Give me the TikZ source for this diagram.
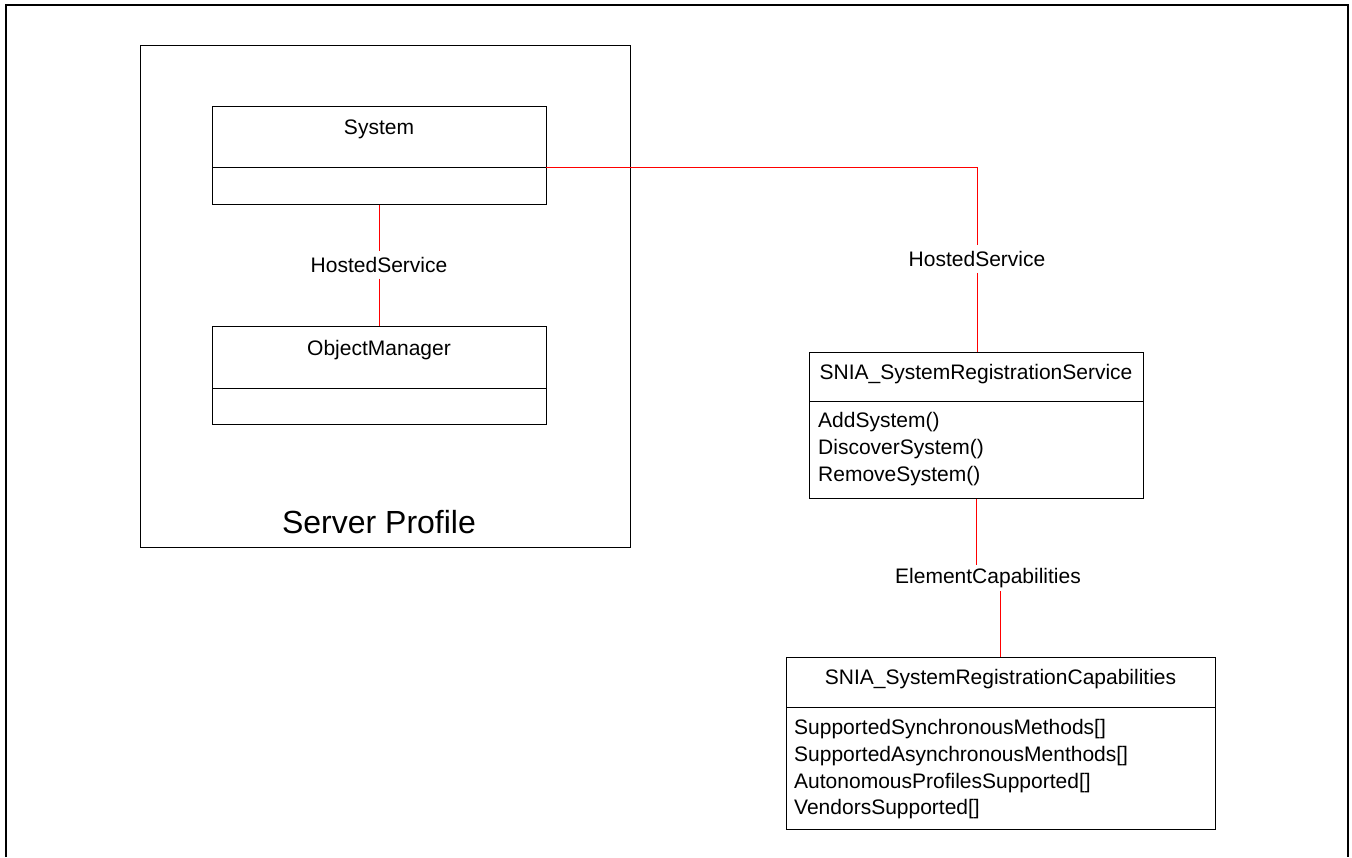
\documentclass[tikz,border=0pt]{standalone}
\usepackage{fontspec}
\setmainfont{Liberation Sans}
\begin{document}
\begin{tikzpicture}[x=1pt,y=-1pt,
  box/.style={draw=black, line width=1pt, inner sep=0pt, minimum width=#1},
  txt/.style={font=\fontsize{21}{26}\selectfont, inner sep=0pt},
  big/.style={font=\fontsize{32}{38}\selectfont, inner sep=0pt},
  conn/.style={draw=red, line width=1pt},
  clabel/.style={font=\fontsize{21}{26}\selectfont, inner xsep=2pt, inner ysep=5.7pt}]
\useasboundingbox (0,0) rectangle (1352,857);
% outer frame
\draw[line width=2pt] (6,857) -- (6,5) -- (1348,5) -- (1348,857);
% Server profile
\node[box=490pt, minimum height=502pt] (sp) at (385,296) {};
\node[big, anchor=base] (spt) at (379,533) {Server Profile};
% System
\node[box=334pt, minimum height=98pt] (sys) at (379,155) {};
\draw[line width=1pt] (212,167) -- (546,167);
\coordinate (sysR) at (546,167);
\node[txt, anchor=base] (syst) at (379,134) {System};
% ObjectManager
\node[box=334pt, minimum height=98pt] (om) at (379,375) {};
\draw[line width=1pt] (212,388) -- (546,388);
\node[txt, anchor=base] (omt) at (379,355) {ObjectManager};
% SRS
\node[box=334pt, minimum height=146pt] (srs) at (976,425) {};
\draw[line width=1pt] (809,401) -- (1143,401);
\node[txt, anchor=base] (srst) at (976,379) {SNIA\_SystemRegistrationService};
\node[txt, anchor=base west] (m1) at (818,427.5) {AddSystem()};
\node[txt, anchor=base west] (m2) at (818,454.5) {DiscoverSystem()};
\node[txt, anchor=base west] (m3) at (818,481.5) {RemoveSystem()};
% SRC
\node[box=429pt, minimum height=172pt] (src) at (1000.5,743) {};
\draw[line width=1pt] (786,707) -- (1215,707);
\node[txt, anchor=base] (srct) at (1000.5,684) {SNIA\_SystemRegistrationCapabilities};
\node[txt, anchor=base west] (a1) at (794,734.5) {SupportedSynchronousMethods[]};
\node[txt, anchor=base west] (a2) at (794,761) {SupportedAsynchronousMenthods[]};
\node[txt, anchor=base west] (a3) at (794,788) {AutonomousProfilesSupported[]};
\node[txt, anchor=base west] (a4) at (794,814) {VendorsSupported[]};
% connector labels
\node[clabel] (hs1) at (379,265) {HostedService};
\node[clabel, inner ysep=6pt] (hs2) at (977,259) {HostedService};
\node[clabel, inner ysep=3.5pt] (ec) at (988,578) {ElementCapabilities};
% connectors
\draw[conn] (sys.south) -- (hs1.north);
\draw[conn] (hs1.south) -- (om.north);
\draw[conn] (sysR) -| (hs2.north);
\draw[conn] (hs2.south) -- (hs2.south |- srs.north);
\draw[conn] (srs.south) -- (srs.south |- ec.north);
\draw[conn] (src.north) -- (src.north |- ec.south);
\end{tikzpicture}
\end{document}
